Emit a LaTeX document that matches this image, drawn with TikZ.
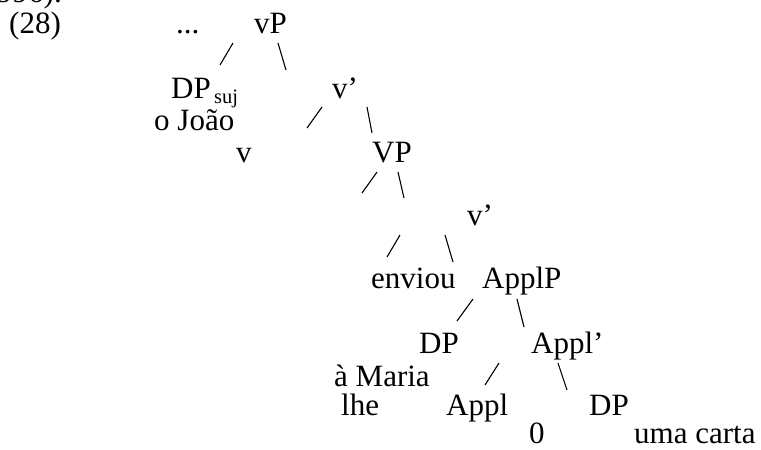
\documentclass[tikz,border=0pt]{standalone}
\usepackage{fontspec}
\setmainfont{Liberation Serif}
\begin{document}
\begin{tikzpicture}[x=1pt,y=-1pt,
  lbl/.style={anchor=base west,inner sep=0pt,font=\fontsize{31}{33}\selectfont},
  sub/.style={anchor=base west,inner sep=0pt,font=\fontsize{20.5}{22}\selectfont},
  br/.style={line width=1.1pt,black}]
\useasboundingbox (0,0) rectangle (761,450);
\begin{scope}
\clip (0,0) rectangle (761,450);
\node[lbl] (frag) at (-3,2) {996).};
\end{scope}
\node[lbl] (ex) at (9,33) {(28)};
\node[lbl] (dots) at (176,33) {...};
\node[lbl] (vP) at (254,33) {vP};
\node[lbl] (DPs) at (171,98) {DP};
\node[sub] (suj) at (214,103) {suj};
\node[lbl] (vbar) at (332,98) {v’};
\node[lbl] (Joao) at (154,130) {o João};
\node[lbl] (v) at (236,162) {v};
\node[lbl] (VP) at (372,162) {VP};
\node[lbl] (vbar2) at (467,225) {v’};
\node[lbl] (enviou) at (371,288) {enviou};
\node[lbl] (ApplP) at (482,288) {ApplP};
\node[lbl] (DP) at (419,353) {DP};
\node[lbl] (Applbar) at (531,353) {Appl’};
\node[lbl] (Maria) at (334,386) {à Maria};
\node[lbl] (lhe) at (341,415) {lhe};
\node[lbl] (Appl) at (446,415) {Appl};
\node[lbl] (DP2) at (589,415) {DP};
\node[lbl] (zero) at (529,443) {0};
\node[lbl] (carta) at (634,443) {uma carta};
% branch end points
\coordinate (a1) at (233,43); \coordinate (a2) at (220,65);
\coordinate (b1) at (278,43); \coordinate (b2) at (286,70);
\coordinate (c1) at (322,107); \coordinate (c2) at (307,128);
\coordinate (d1) at (367,107); \coordinate (d2) at (372,133);
\coordinate (e1) at (377,172); \coordinate (e2) at (362,193);
\coordinate (f1) at (398,172); \coordinate (f2) at (404,198);
\coordinate (g1) at (400,235); \coordinate (g2) at (387,257);
\coordinate (h1) at (445,235); \coordinate (h2) at (453,262);
\coordinate (i1) at (473,299); \coordinate (i2) at (457,321);
\coordinate (j1) at (517,299); \coordinate (j2) at (524,327);
\coordinate (k1) at (499,363); \coordinate (k2) at (485,385);
\coordinate (l1) at (558,363); \coordinate (l2) at (567,390);
\foreach \p in {a,b,c,d,e,f,g,h,i,j,k,l}{\draw[br] (\p1) -- (\p2);}
\end{tikzpicture}
\end{document}
